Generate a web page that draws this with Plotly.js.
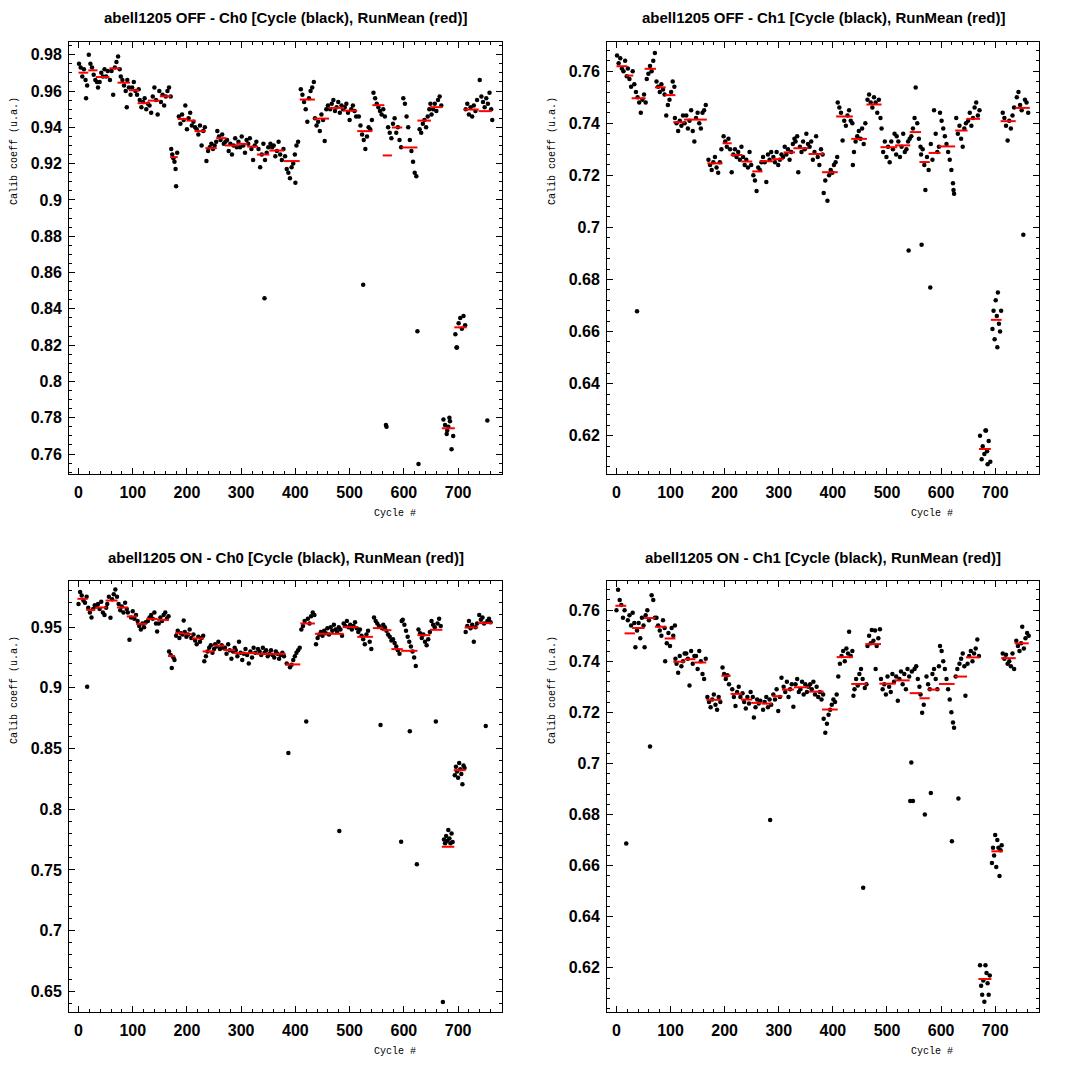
<!DOCTYPE html>
<html>
<head>
<meta charset="utf-8">
<script src="https://cdn.plot.ly/plotly-3.0.1.min.js"></script>
<style>
html,body{margin:0;padding:0;background:#fff;}
#chart{width:1070px;height:1070px;}
</style>
</head>
<body>
<div id="chart"></div>
<script>
// ---------------- DATA ----------------
const panelTitles = [
  "abell1205 OFF - Ch0 [Cycle (black), RunMean (red)]",
  "abell1205 OFF - Ch1 [Cycle (black), RunMean (red)]",
  "abell1205 ON - Ch0 [Cycle (black), RunMean (red)]",
  "abell1205 ON - Ch1 [Cycle (black), RunMean (red)]"
];
const xLabel = "Cycle #";
const yLabel = "Calib coeff (u.a.)";

// Panel 1: OFF Ch0 - per-cycle calibration coefficient
const p1x = [1,4,7,10,13,14,16, 19,22,25,28,31,34, 36,39,42,45,48,51,54, 58,61,64,67,70,73,76,
 78,81,84,87,89,90,93, 96,99,102,105,108,111, 113,116,119,122,125,128, 131,134,137,140,143,146,149,
 152,155,158,161,164,167,170, 171,173,175,177,179,180,182, 185,188,191,194,197,200, 203,206,209,212,215,
 218,221,224,227,230,233, 236,239,242,245,248,251,254, 256,259,262,265,268,271, 274,277,280,283,286,289,292,
 295,298,301,304,307,310, 313,316,319,322,325,328, 332,335,338,341,343,344,347,350,
 354,357,360,363,366,369,372,375,378, 381,384,387,390,393,396,399,400,402,405,
 410,413,416,419,422,425,428,431,434, 436,439,442,445,448,451,454,457,460,
 464,467,470,473,476,479,482,485,488, 491,494,497,500,503,506,509,512,
 517,520,523,525,526,529,532,535,538,541, 544,547,550,553,556,559,562, 565,567,568,571,574,577,
 580,583,586,589,592,595, 599,602,605,608,611,614,617,620,623,625,627, 629,632,635,638,641,644,647,649,
 651,654,657,660,663,666,669, 673,676,679,680,682,684,685,688,691, 695,697,698,701,704,707,710,713,
 714,717,720,723,726,729,732,735, 740,743,746,749,752,754,755,758,761,763];
const p1y = [.975,.973,.968,.972,.966,.956,.963, .980,.975,.973,.969,.966,.965, .962,.965,.970,.968,.972,.968,.971, .966,.971,.958,.973,.976,.979,.972,
 .968,.966,.963,.960,.951,.966,.962, .958,.962,.965,.960,.958,.961, .955,.951,.954,.956,.950,.953, .952,.948,.957,.962,.955,.947,.960,
 .954,.958,.952,.957,.960,.962,.957, .928,.925,.923,.921,.917,.9075,.926, .946,.942,.947,.944,.952,.939, .945,.948,.941,.943,.940,
 .939,.936,.941,.930,.938,.940, .9215,.927,.929,.931,.928,.930,.932, .938,.935,.933,.936,.931,.932, .933,.927,.931,.925,.930,.934,.929,
 .932,.929,.935,.930,.926,.933, .931,.934,.928,.922,.930,.932, .928,.918,.925,.931,.8458,.922,.926,.929,
 .931,.929,.930,.924,.927,.932,.925,.922,.928, .924,.917,.915,.912,.918,.920,.925,.9095,.930,.932,
 .961,.958,.954,.950,.943,.956,.960,.962,.965, .945,.941,.943,.938,.947,.944,.9325,.950,.952,
 .950,.953,.955,.949,.951,.954,.948,.952,.950, .951,.953,.948,.944,.950,.952,.949,.946,
 .946,.941,.936,.8533,.933,.928,.935,.940,.939,.944, .959,.956,.953,.951,.949,.947,.950, .946,.776,.775,.940,.937,.934,
 .942,.945,.937,.940,.933,.929, .956,.953,.946,.940,.933,.927,.921,.915,.913,.8276,.7545, .939,.937,.942,.944,.940,.946,.950,.953,
 .947,.950,.953,.949,.955,.957,.952, .779,.776,.771,.773,.775,.780,.778,.7627,.770, .826,.8187,.8187,.832,.835,.829,.836,.831,
 .950,.953,.947,.951,.946,.952,.949,.955, .966,.957,.954,.951,.956,.7785,.953,.959,.950,.944];
// run means: [first cycle, last cycle, mean]
const p1Runs = [[0,18,.9701],[18,35,.9714],[32,57,.9677],[57,77,.9725],[72,95,.9646],[93,112,.9604],[109,131,.9533],
 [128,150,.9547],[150,171,.9571],[169,183,.9236],[183,201,.9446],[199,216,.9437],[214,235,.9379],[234,255,.9285],
 [254,273,.934],[270,294,.930],[291,312,.9309],[311,331,.9294],[329,352,.925],[352,379,.9272],[379,408,.9214],
 [408,436,.9553],[433,462,.9448],[462,490,.9507],[488,514,.9492],[514,542,.9379],[542,564,.9522],[561,578,.9245],
 [578,597,.9399],[596,625,.9289],[625,650,.9437],[648,671,.9511],[670,694,.7742],[693,716,.8298],[711,738,.9498],[738,762,.9489]];

// Panel 2: OFF Ch1
const p2x = [1,4,7,10,13,16,19, 21,24,27,30, 33,36,38,39,42,45,48,51,54, 56,59,62,65,68,71, 74,77,80,83,86,89,
 92,95,98,101,104,107, 108,111,114,117,120,123,126, 129,132,135,138,141,144,147,150,153,156,159,162,165,
 170,173,176,179,182,185,188,191,194, 198,201,204,207,210, 213,216,219,222,225,228,231, 234,237,240,243,246,249,
 253,256,259,262,265,268, 271,274,277,280,283,286, 290,293,296,299,302,305,308, 311,314,317,320,323,326,329,
 331,334,336,339,342,345,348,351,354, 357,360,363,366,369,372,375,378,381, 383,386,390,393,396,399,402,405,408,
 409,412,415,418,421,424,427,430,433,436, 437,439,442,445,448,451,454,457,460, 464,467,470,473,476,479,482,485,488,
 490,493,496,499,502,505,508,511,514,517, 518,521,524,527,530,533,536,539,540,542, 545,548,551,553,556,559,562,
 563,564,566,569,571,574,577,580, 581,584,587,590,593,596, 598,601,604,607,610,613,616,619,622,623,624,
 628,631,634,637,640,643,646, 650,653,656,659,662,665,668,671, 672,675,677,680,682,683,685,686,688,691,
 695,697,699,701,703,704,705,707,709,711, 714,717,720,723,726,729,732,735, 740,743,746,749,752,755,758,761];
const p2y = [.766,.763,.765,.761,.760,.764,.758, .761,.757,.754,.760, .755,.752,.6678,.750,.748,.744,.749,.751,.748, .757,.759,.762,.760,.764,.767, .756,.754,.752,.755,.753,.751,
 .743,.747,.749,.752,.756,.754, .742,.740,.737,.741,.739,.743,.740, .743,.738,.741,.745,.737,.733,.742,.744,.740,.738,.744,.745,.747,
 .726,.724,.722,.725,.727,.723,.721,.725,.730, .735,.733,.731,.734,.730, .7212,.728,.730,.727,.729,.726,.731, .727,.724,.726,.723,.729,.724,
 .720,.718,.714,.723,.722,.725, .727,.725,.7174,.728,.726,.729, .727,.725,.729,.724,.726,.728,.727, .731,.728,.730,.726,.729,.732,.734,
 .733,.735,.7212,.731,.729,.733,.730,.736,.732, .731,.733,.726,.729,.735,.727,.724,.730,.728, .7132,.718,.7102,.720,.722,.721,.724,.725,.727,
 .748,.746,.744,.7334,.741,.739,.743,.745,.741,.740, .724,.729,.733,.735,.737,.734,.738,.732,.740, .749,.751,.748,.746,.750,.748,.744,.749,.742,
 .738,.729,.733,.727,.731,.725,.733,.730,.736,.728, .735,.733,.727,.731,.736,.729,.730,.733,.6911,.734, .735,.738,.742,.7537,.740,.734,.731,
 .728,.6933,.730,.724,.7144,.727,.722,.6769, .732,.726,.745,.736,.729,.731, .744,.741,.738,.735,.732,.729,.726,.722,.717,.7144,.7129,
 .742,.736,.739,.734,.731,.738,.740, .741,.744,.739,.742,.746,.748,.743,.745, .620,.611,.616,.613,.622,.622,.614,.609,.618,.610,
 .661,.668,.657,.672,.666,.654,.675,.663,.660,.668, .744,.742,.739,.7334,.741,.738,.743,.746, .750,.752,.747,.745,.6972,.749,.748,.744];
const p2Runs = [[0,20,.7619],[17,31,.7583],[28,54,.7496],[52,73,.7609],[71,91,.7538],[89,109,.7508],[105,127,.7404],
 [125,167,.7414],[168,196,.7246],[196,213,.7323],[211,233,.7278],[231,251,.7253],[251,270,.7215],[265,289,.7254],
 [288,309,.7262],[309,330,.7288],[327,355,.7304],[355,383,.7282],[380,409,.7212],[406,437,.7426],[434,463,.734],
 [462,490,.7472],[488,519,.7308],[515,543,.7315],[542,563,.7366],[560,579,.7251],[577,599,.7286],[596,626,.7311],
 [626,649,.7372],[647,672,.7417],[670,692,.6149],[692,712,.6645],[710,738,.7408],[737,764,.7459]];

// Panel 3: ON Ch0
const p3x = [0,3,6,9,12,15, 16,18,21,24,27,30, 33,36,39,42,45,48,51, 53,56,59,62,65,68,71, 74,77,80,83,86,89,
 91,94,97,100,103,106, 109,112,115,118,121,124, 128,131,134,137,140,143,145, 148,151,154,157,160,163,166,
 167,170,172,175,177, 180,183,186,189,192,194, 196,199,202,205,208, 212,215,218,221,224,227,230,
 232,235,238,241,244,247,250, 252,255,258,261,264,267, 270,273,276,279,282,285,288,
 290,293,296,299,302,305,308,311,314,317,320,323,326,
 331,334,337,340,343,346,349,352,355,358,361,364,367,370,373,376,379,
 384,387,390,393,396,399,402,405,408, 411,414,417,420,423,426,429,432,435,
 438,441,444,447,450,453,456,459,462,465,468,471,474,477,480,481,483,486,
 489,492,495,498,501,504,507,510,513, 516,519,522,525,528,531,534,537,540, 545,548,551,554,557,560,
 562,565,568,571,574,577, 580,583,586,589,592,595,596, 598,601,604,607,610,611,613,616,619,622,624,
 627,630,633,636,639,642,645,648, 651,654,657,659,662,665,668, 672,674,676,678,680,682,684,686,688,690,
 694,696,698,700,702,704,706,708,710,712, 714,717,720,723,726,729,732,735, 739,742,745,748,751,754,757,760];
const p3y = [.969,.979,.976,.972,.970,.975, .901,.966,.962,.958,.965,.968, .967,.969,.965,.971,.962,.960,.966, .969,.975,.9577,.973,.977,.981,.975, .969,.964,.967,.962,.970,.965,
 .962,.9396,.958,.963,.957,.960, .955,.951,.948,.953,.950,.954, .955,.958,.960,.957,.962,.953,.9464, .953,.958,.955,.960,.962,.957,.959,
 .930,.927,.9163,.925,.923, .943,.947,.941,.945,.944,.9555, .946,.942,.944,.948,.941, .944,.939,.936,.942,.938,.941,.943,
 .922,.926,.930,.933,.935,.929,.932, .936,.934,.938,.932,.935,.933, .933,.928,.936,.931,.924,.930,.933,
 .931,.926,.938,.929,.923,.928,.932,.927,.920,.930,.925,.933,.929,
 .932,.930,.927,.933,.929,.931,.926,.928,.931,.927,.925,.930,.928,.924,.927,.929,.926,
 .920,.8464,.917,.919,.923,.926,.929,.931,.933, .948,.951,.955,.8722,.957,.953,.959,.962,.960,
 .936,.941,.944,.946,.943,.947,.945,.949,.944,.950,.947,.952,.948,.946,.950,.782,.948,.943,
 .953,.951,.955,.950,.952,.948,.951,.954,.949, .946,.948,.943,.940,.936,.944,.947,.938,.932, .958,.955,.953,.951,.8694,.949,
 .952,.950,.947,.944,.942,.939, .940,.937,.934,.931,.928,.7732,.955, .956,.952,.947,.942,.938,.8642,.934,.930,.925,.918,.7546,
 .948,.945,.941,.944,.938,.935,.940,.946, .955,.952,.950,.8722,.953,.957,.951, .6413,.775,.772,.778,.774,.783,.776,.772,.780,.773,
 .828,.835,.831,.826,.838,.833,.829,.8205,.836,.834, .946,.951,.955,.949,.952,.938,.950,.953, .960,.956,.958,.953,.8686,.955,.957,.954];
const p3Runs = [[-2,17,.9733],[14,31,.9642],[31,52,.9662],[50,72,.9719],[71,91,.9662],[89,108,.9588],[106,126,.9527],
 [125,146,.9568],[145,167,.956],[165,178,.9262],[178,195,.945],[194,210,.9442],[209,231,.9407],[229,251,.930],
 [249,269,.9347],[267,289,.9311],[286,329,.9286],[329,354,.928],[353,382,.928],[382,409,.9193],[409,436,.953],
 [436,489,.9445],[487,515,.95],[514,543,.942],[543,562,.9492],[560,577,.9475],[577,598,.9319],[595,625,.9305],
 [625,649,.9434],[648,671,.9478],[670,693,.7691],[692,714,.8322],[712,737,.9497],[737,763,.9533]];

// Panel 4: ON Ch1
const p4x = [0,3,6,9,12,15, 18,21,24,27,30,33, 35,38,41,44,47,50,52, 54,57,60,62,65,68,71, 74,77,80,83,86,89,
 90,93,96,99,102,105,108, 109,111,114,117,120,123,126, 129,132,135,138,141,144, 147,150,153,156,159,162,165,
 168,171,174,177,180,183,186,189,192, 196,199,202,205,208, 214,217,220,223,226,229, 233,236,239,242,245,248,
 252,254,257,260,263,266, 271,274,277,280,283,284,286, 290,293,296,299,302,305, 309,312,315,318,321,324,327,
 331,334,337,340,343,346,349,352,355, 358,361,364,367,370,373,376,379,382, 383,386,389,392,395,398,401,404,407,
 410,413,416,419,422,425,428,430,433,436, 438,440,443,446,449,452,455,456,459,462,
 464,467,470,472,475,478,479,481,484,487, 489,492,495,498,501,504,507,510,513, 517,520,523,526,529,532,535,538,541,
 543,545,546,548,551,554,557,560, 562,565,568,570,573,576,579, 581,584,587,590,593,596,
 598,601,604,607,610,613,616,619,620,622,624, 627,630,632,634,637,640,643,645, 649,652,655,658,661,664,667,670,
 672,674,676,678,680,682,684,686,688,690, 694,696,698,700,702,704,706,708,710,712,
 714,717,720,723,726,729,732,735, 739,742,745,748,750,753,756,759,762];
const p4y = [.760,.768,.764,.762,.757,.760, .6687,.756,.758,.754,.759,.755, .7455,.752,.755,.749,.757,.754,.7455, .758,.760,.756,.7066,.7658,.764,.757, .757,.754,.752,.750,.756,.753,
 .740,.747,.751,.746,.753,.750,.754, .741,.739,.7355,.742,.738,.740,.743, .743,.741,.7305,.744,.739,.742, .742,.737,.744,.740,.735,.733,.741,
 .726,.724,.722,.725,.727,.723,.721,.726,.724, .7375,.735,.733,.7345,.731, .729,.726,.7225,.728,.730,.726, .7275,.724,.7215,.726,.7235,.728,
 .726,.718,.722,.725,.7235,.7245, .721,.724,.726,.722,.725,.6779,.723, .727,.725,.729,.7205,.726,.7335, .730,.728,.732,.726,.729,.731,.7222,
 .731,.733,.728,.729,.732,.727,.731,.728,.730, .731,.729,.732,.727,.730,.726,.728,.725,.727, .7175,.712,.7155,.719,.721,.723,.725,.724,.727,
 .734,.739,.742,.744,.740,.745,.743,.7515,.742,.744, .7265,.729,.733,.7305,.735,.737,.733,.6513,.7295,.731,
 .746,.750,.747,.7522,.748,.752,.737,.746,.749,.7525, .733,.729,.731,.727,.734,.730,.728,.735,.732, .734,.7245,.733,.736,.731,.735,.729,.737,.734,
 .6853,.7004,.736,.6853,.737,.738,.733,.730, .727,.7198,.723,.680,.734,.731,.729, .6884,.735,.737,.733,.729,.738,
 .746,.744,.740,.737,.733,.729,.725,.720,.6695,.716,.714, .734,.737,.6863,.739,.741,.743,.738,.7265, .739,.742,.744,.740,.743,.745,.7485,.742,
 .621,.613,.6095,.615,.6067,.621,.618,.614,.6095,.617, .661,.667,.664,.672,.6595,.670,.667,.6559,.666,.668,
 .743,.741,.7425,.739,.740,.738,.743,.737, .748,.746,.744,.747,.7535,.745,.749,.751,.750];
const p4Runs = [[-2,18,.7617],[15,34,.7509],[29,52,.753],[51,72,.7569],[71,92,.7535],[89,109,.7489],[105,127,.7398],
 [126,146,.7408],[144,166,.7395],[166,194,.7249],[194,211,.7343],[211,232,.7272],[230,251,.725],[249,268,.7237],
 [268,288,.7234],[288,307,.7263],[306,328,.7289],[328,356,.7298],[356,383,.7281],[380,409,.7211],[407,437,.7416],
 [434,463,.7311],[460,489,.7467],[486,516,.7312],[514,542,.7325],[542,563,.7275],[560,579,.7255],[576,597,.7289],
 [596,625,.7311],[625,648,.734],[646,671,.7415],[669,693,.6156],[693,714,.6656],[711,738,.7412],[736,762,.747]];

// ---------------- LAYOUT CONFIG ----------------
const W = 1070, H = 1070;
const frames = [ // plot frame in pixels: left, right, top, bottom
  {l:69, r:502, t:42, b:474},
  {l:607, r:1039, t:42, b:474},
  {l:69, r:502, t:581, b:1012},
  {l:607, r:1039, t:581, b:1012}
];
const yRanges = [[0.749,0.987],[0.6053,0.7712],[0.633,0.988],[0.6027,0.7714]];
const yDticks = [0.02,0.02,0.05,0.02];
const yMinor = [0.005,0.004,0.01,0.004];
const xRange = [-17.5, 781];
const cycleData = [[p1x,p1y,p1Runs],[p2x,p2y,p2Runs],[p3x,p3y,p3Runs],[p4x,p4y,p4Runs]];

const traces = [];
const layout = {
  width: W, height: H,
  margin: {l:0, r:0, t:0, b:0},
  paper_bgcolor: '#ffffff', plot_bgcolor: '#ffffff',
  showlegend: false,
  annotations: []
};
const tickFont = {family: 'Liberation Sans, Arial, sans-serif', size: 16, color: '#000', weight: 'bold'};
const monoFont = {family: 'Liberation Mono, Courier New, monospace', size: 10, color: '#000'};
const titleFont = {family: 'Liberation Sans, Arial, sans-serif', size: 15, color: '#000', weight: 'bold'};

cycleData.forEach((d, i) => {
  const n = i === 0 ? '' : String(i + 1);
  const [xs, ys, runs] = d;
  const f = frames[i];
  traces.push({
    type: 'scatter', mode: 'markers', x: xs, y: ys,
    xaxis: 'x' + n, yaxis: 'y' + n,
    marker: {color: '#000', size: 4.5, symbol: 'circle'},
    hoverinfo: 'skip', cliponaxis: true
  });
  const rx = [], ry = [];
  runs.forEach(r => { rx.push(r[0], r[1], null); ry.push(r[2], r[2], null); });
  traces.push({
    type: 'scatter', mode: 'lines', x: rx, y: ry,
    xaxis: 'x' + n, yaxis: 'y' + n,
    line: {color: '#ff0000', width: 2}, connectgaps: false, hoverinfo: 'skip'
  });
  const axCommon = {
    showline: true, linecolor: '#000', linewidth: 1, mirror: 'allticks',
    ticks: 'inside', ticklen: 6, tickwidth: 1, tickcolor: '#000',
    showgrid: false, zeroline: false, tickfont: tickFont, fixedrange: true
  };
  layout['xaxis' + n] = Object.assign({}, axCommon, {
    domain: [f.l / W, f.r / W], anchor: 'y' + n,
    range: xRange, dtick: 100, tick0: 0, ticklabelstandoff: 4,
    minor: {dtick: 20, tick0: 0, ticks: 'inside', ticklen: 3, tickcolor: '#000', showgrid: false}
  });
  layout['yaxis' + n] = Object.assign({}, axCommon, {
    domain: [1 - f.b / H, 1 - f.t / H], anchor: 'x' + n,
    range: yRanges[i], dtick: yDticks[i], tick0: 0, ticklabelstandoff: 3,
    minor: {dtick: yMinor[i], tick0: 0, ticks: 'inside', ticklen: 3, tickcolor: '#000', showgrid: false}
  });
  const cx = (f.l + f.r) / 2;
  layout.annotations.push({
    text: panelTitles[i], xref: 'paper', yref: 'paper',
    x: cx / W, y: 1 - (f.t - 24) / H, xanchor: 'center', yanchor: 'middle',
    showarrow: false, font: titleFont
  });
  layout.annotations.push({
    text: xLabel, xref: 'paper', yref: 'paper',
    x: (f.l + 0.753 * (f.r - f.l)) / W, y: 1 - (f.b + 39) / H, xanchor: 'center', yanchor: 'middle',
    showarrow: false, font: monoFont
  });
  layout.annotations.push({
    text: yLabel, xref: 'paper', yref: 'paper', textangle: -90,
    x: (f.l - 55) / W, y: 1 - (f.t + 109) / H, xanchor: 'center', yanchor: 'middle',
    showarrow: false, font: monoFont
  });
});

Plotly.newPlot('chart', traces, layout, {staticPlot: true, displayModeBar: false});
</script>
</body>
</html>
